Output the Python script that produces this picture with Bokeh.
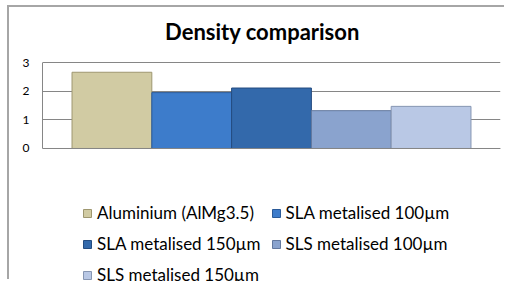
from bokeh.plotting import figure
from bokeh.models import (ColumnDataSource, Range1d, Legend, LegendItem, Span, Label)
from bokeh.embed import file_html
from bokeh.resources import INLINE

title_text = "Density comparison"
series = ["Aluminium (AlMg3.5)", "SLA metalised 100µm", "SLA metalised 150µm",
          "SLS metalised 100µm", "SLS metalised 150µm"]
densities = [2.66, 1.95, 2.11, 1.32, 1.47]
colors = ["#D1CBA3", "#3D7CCB", "#3369AB", "#8AA3CE", "#B9C8E5"]
edge_colors = ["#9E9770", "#2A5A98", "#244C80", "#63789E", "#8796B2"]
y_ticks = [0, 1, 2, 3]

positions = list(range(len(series)))
src = ColumnDataSource(dict(x=positions, top=densities, name=series,
                            color=colors, edge=edge_colors))

FONT = "Lato"

p = figure(width=497, height=274, output_backend="svg", toolbar_location=None,
           x_range=Range1d(-0.87, 4.87), y_range=Range1d(-4.640, 4.919),
           min_border_left=33, min_border_right=6, min_border_top=0,
           min_border_bottom=0)
p.styles = {"margin-left": "7px", "margin-top": "5px",
            "border-top": "2px solid #A6A6A6", "border-left": "2px solid #A6A6A6"}
p.outline_line_color = None
p.background_fill_color = "white"
p.border_fill_color = "white"

r = p.vbar(x="x", top="top", width=1.0, bottom=0, source=src,
           fill_color="color", line_color="edge", line_width=1)

p.xaxis.visible = False
p.xgrid.visible = False
p.yaxis.ticker = y_ticks
p.yaxis.bounds = (0, 3)
p.yaxis.major_tick_line_color = None
p.yaxis.minor_tick_line_color = None
p.yaxis.axis_line_color = "#868686"
p.yaxis.major_label_text_font = FONT
p.yaxis.major_label_text_font_size = "12px"
p.yaxis.major_label_text_color = "#000000"
p.yaxis.major_label_standoff = 7
p.ygrid.grid_line_color = "#868686"
p.ygrid.ticker = y_ticks
p.ygrid.level = "underlay"

p.add_layout(Label(x=1.887, y=4.082, text=title_text, text_align="center",
                   text_baseline="middle", text_font=FONT,
                   text_font_style="bold", text_font_size="22px",
                   text_color="#000000"))

items = [LegendItem(label=series[i], renderers=[r], index=i) for i in positions]
legend = Legend(items=items, location=(40, -4), orientation="horizontal", ncols=2,
                label_text_font=FONT, label_text_font_size="17px",
                label_text_color="#000000", glyph_width=10, glyph_height=10,
                label_height=20, label_standoff=5, spacing=10, padding=0, margin=0,
                border_line_color=None, background_fill_alpha=0)
p.add_layout(legend, "center")

p.add_layout(Span(location=0, dimension="width", line_color="#868686", line_width=1))

open("out.html", "w").write(file_html(p, INLINE))
